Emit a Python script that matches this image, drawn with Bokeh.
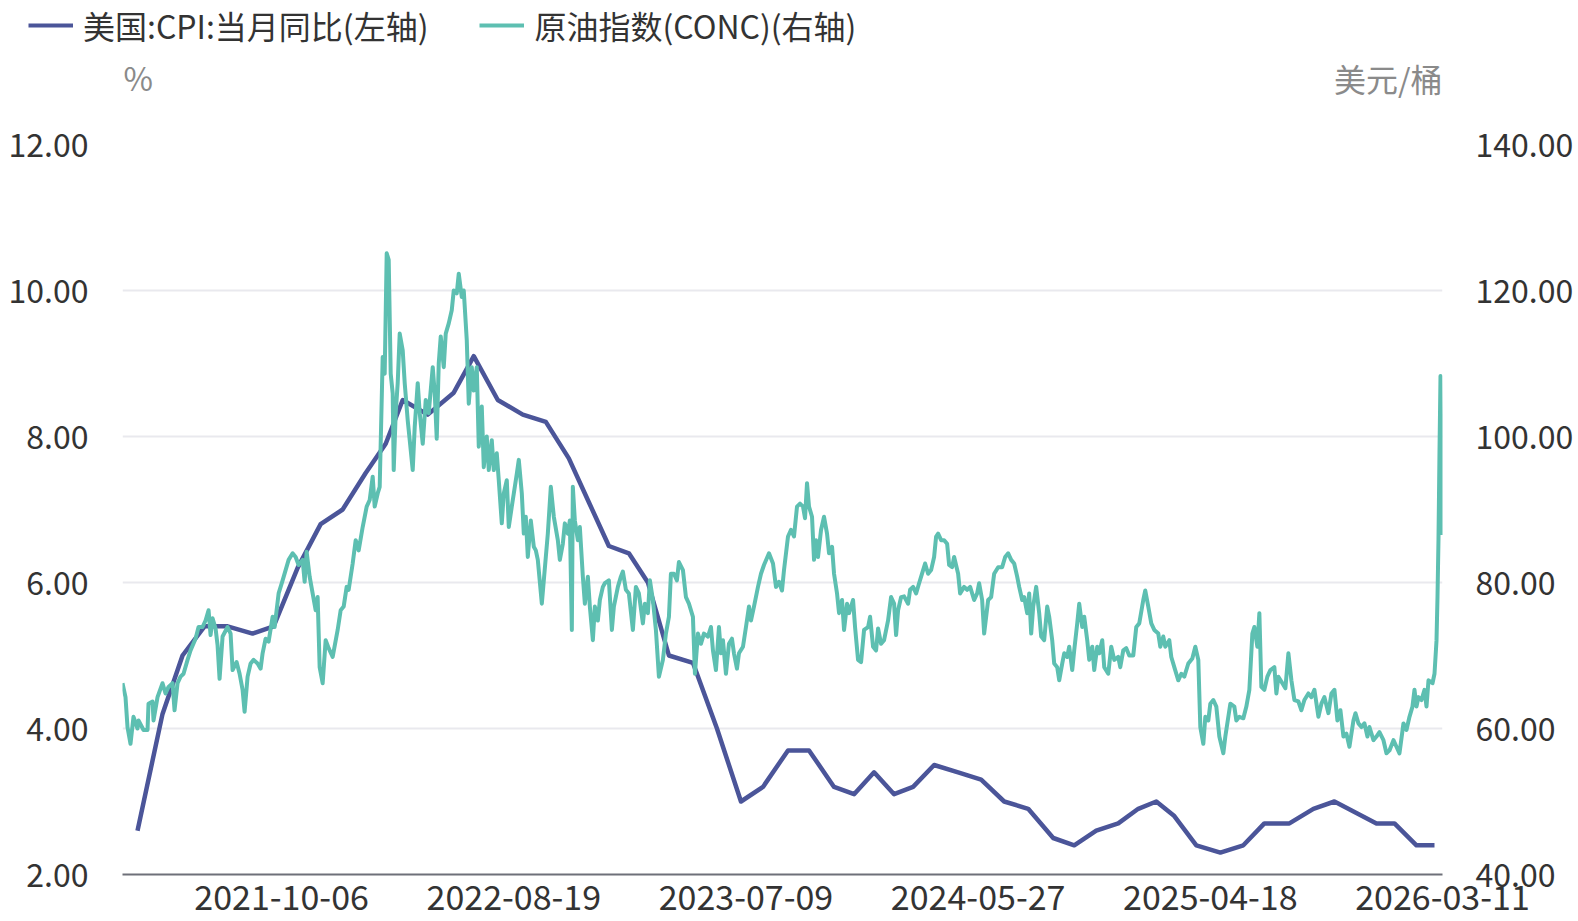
from bokeh.plotting import figure
from bokeh.layouts import column
from bokeh.models import (Range1d, LinearAxis, FixedTicker, NumeralTickFormatter,
                          Legend, LegendItem, Label, Plot)
from bokeh.embed import file_html
from bokeh.resources import INLINE

FONT = "Noto Sans CJK SC"

# ---- category axis (observation index) ----
n_obs = 1320
x_tick_idx = [159, 391, 623, 855, 1087, 1319]
x_tick_labels = ["2021-10-06", "2022-08-19", "2023-07-09", "2024-05-27", "2025-04-18", "2026-03-11"]

# ---- 美国:CPI:当月同比 (%) ----
cpi_month = ["2021-03", "2021-04", "2021-05", "2021-06", "2021-07", "2021-08", "2021-09", "2021-10",
             "2021-11", "2021-12", "2022-01", "2022-02", "2022-03", "2022-04", "2022-05", "2022-06",
             "2022-07", "2022-08", "2022-09", "2022-10", "2022-11", "2022-12", "2023-01", "2023-02",
             "2023-03", "2023-04", "2023-05", "2023-06", "2023-07", "2023-08", "2023-09", "2023-10",
             "2023-11", "2023-12", "2024-01", "2024-02", "2024-03", "2024-04", "2024-05", "2024-06",
             "2024-07", "2024-08", "2024-09", "2024-10", "2024-11", "2024-12", "2025-01", "2025-02",
             "2025-03", "2025-04", "2025-05", "2025-06", "2025-07", "2025-08", "2025-09", "2025-11",
             "2025-12", "2026-01", "2026-02"]
cpi_idx = [15, 40, 60, 82, 105, 130, 151, 175, 198, 220, 243, 263, 280, 305, 331, 351,
           375, 400, 423, 446, 466, 486, 506, 525, 546, 570, 594, 618, 640, 665, 686, 711,
           731, 751, 771, 790, 811, 835, 858, 881, 905, 930, 951, 973, 995, 1015, 1033, 1051,
           1073, 1097, 1120, 1141, 1166, 1190, 1211, 1253, 1271, 1293, 1311]
cpi_val = [2.6, 4.2, 5.0, 5.4, 5.4, 5.3, 5.4, 6.2, 6.8, 7.0, 7.5, 7.9, 8.5, 8.3, 8.6, 9.1,
           8.5, 8.3, 8.2, 7.7, 7.1, 6.5, 6.4, 6.0, 5.0, 4.9, 4.0, 3.0, 3.2, 3.7, 3.7, 3.2,
           3.1, 3.4, 3.1, 3.2, 3.5, 3.4, 3.3, 3.0, 2.9, 2.5, 2.4, 2.6, 2.7, 2.9, 3.0, 2.8,
           2.4, 2.3, 2.4, 2.7, 2.7, 2.9, 3.0, 2.7, 2.7, 2.4, 2.4]

# ---- 原油指数(CONC) (美元/桶) ----
oil_idx = [0, 3, 5, 8, 11, 15, 16, 21, 25, 26, 30, 31, 35, 40, 43, 46, 50, 52, 55, 58,
           61, 65, 68, 73, 76, 80, 83, 86, 88, 90, 93, 95, 97, 100, 105, 108, 110, 114, 117, 120,
           122, 125, 128, 131, 135, 138, 140, 143, 146, 150, 152, 156, 160, 163, 166, 170, 173, 176, 180, 182,
           184, 187, 190, 193, 195, 197, 200, 203, 206, 210, 215, 218, 221, 224, 226, 230, 233, 236, 240, 244,
           247, 250, 252, 255, 257, 260, 262, 264, 266, 268, 270, 271, 273, 275, 277, 280, 282, 285, 287, 290,
           292, 295, 297, 300, 303, 306, 310, 312, 314, 316, 318, 321, 323, 326, 329, 331, 334, 336, 339, 341,
           344, 346, 349, 351, 354, 356, 359, 361, 364, 366, 369, 371, 374, 376, 379, 381, 384, 386, 389, 391,
           394, 396, 399, 401, 403, 405, 408, 411, 413, 415, 419, 421, 425, 428, 431, 435, 437, 440, 442, 445,
           447, 449, 450, 452, 455, 457, 460, 462, 465, 467, 470, 472, 475, 477, 480, 482, 486, 489, 491, 495,
           498, 500, 503, 506, 510, 513, 516, 520, 522, 525, 527, 530, 533, 536, 540, 543, 546, 548, 551, 554,
           556, 560, 563, 566, 570, 572, 575, 578, 581, 585, 588, 590, 593, 596, 598, 600, 603, 606, 609, 611,
           614, 616, 620, 623, 626, 628, 631, 635, 638, 641, 646, 650, 653, 656, 659, 661, 665, 668, 671, 674,
           677, 680, 682, 684, 686, 689, 691, 693, 695, 698, 701, 704, 706, 709, 711, 714, 716, 719, 721, 724,
           726, 730, 732, 735, 738, 741, 745, 747, 750, 753, 755, 758, 761, 765, 768, 771, 773, 775, 778, 781,
           785, 787, 790, 793, 796, 800, 802, 805, 808, 811, 813, 815, 818, 821, 824, 826, 829, 831, 835, 837,
           841, 844, 847, 851, 854, 856, 859, 861, 865, 868, 871, 875, 879, 882, 885, 888, 891, 894, 896, 899,
           901, 904, 906, 908, 910, 913, 916, 918, 921, 924, 926, 929, 931, 934, 936, 939, 941, 944, 946, 949,
           951, 954, 956, 959, 961, 964, 966, 969, 971, 974, 976, 979, 981, 985, 988, 991, 995, 997, 1000, 1003,
           1006, 1010, 1013, 1016, 1020, 1022, 1025, 1028, 1031, 1035, 1037, 1040, 1042, 1046, 1048, 1051, 1055, 1058, 1061, 1065,
           1069, 1072, 1075, 1077, 1080, 1082, 1085, 1087, 1090, 1093, 1096, 1100, 1102, 1105, 1107, 1111, 1113, 1116, 1120, 1123,
           1126, 1129, 1131, 1134, 1136, 1138, 1141, 1144, 1147, 1151, 1153, 1155, 1159, 1162, 1165, 1168, 1171, 1175, 1178, 1181,
           1185, 1188, 1191, 1195, 1198, 1201, 1205, 1208, 1211, 1214, 1217, 1220, 1223, 1226, 1230, 1232, 1235, 1238, 1241, 1244,
           1246, 1250, 1253, 1256, 1260, 1263, 1266, 1270, 1273, 1276, 1280, 1283, 1286, 1289, 1291, 1293, 1295, 1298, 1301, 1303,
           1305, 1309, 1311, 1313, 1314, 1315, 1316, 1317, 1319]
oil_val = [66.2, 64.3, 60.2, 57.9, 61.6, 60.0, 61.1, 59.8, 59.8, 63.4, 63.7, 61.1, 64.3, 66.2, 64.8, 65.7, 66.2, 62.5, 66.2, 67.1,
           67.5, 69.4, 70.7, 72.3, 73.9, 73.9, 74.8, 76.2, 72.8, 75.1, 73.7, 71.4, 66.8, 72.6, 73.9, 73.0, 68.0, 69.1, 67.5, 65.3,
           62.3, 67.1, 68.9, 69.4, 68.9, 68.2, 70.3, 72.3, 71.9, 75.3, 73.9, 78.5, 80.3, 81.7, 83.1, 84.0, 83.5, 82.4, 83.1, 80.1,
           84.2, 80.8, 78.5, 76.2, 78.0, 68.4, 66.2, 72.1, 71.0, 69.8, 73.5, 76.2, 76.7, 79.4, 79.0, 82.6, 85.8, 84.4, 87.6, 90.4,
           91.3, 94.5, 90.4, 92.2, 93.1, 110.9, 108.6, 125.1, 124.2, 108.6, 105.9, 95.4, 103.2, 107.3, 114.1, 111.8, 107.3, 102.2, 99.5, 95.4,
           101.3, 107.3, 103.2, 99.0, 105.0, 103.2, 109.5, 105.9, 99.7, 110.0, 113.7, 109.5, 114.1, 115.5, 117.3, 120.0, 119.6, 122.3, 119.1, 120.0,
           113.2, 104.5, 109.5, 106.3, 109.5, 98.6, 104.1, 95.8, 100.0, 95.4, 99.5, 95.4, 97.7, 94.0, 88.1, 92.2, 94.0, 87.6, 90.4, 92.2,
           94.9, 96.8, 92.2, 86.7, 89.0, 83.5, 88.5, 84.9, 84.4, 83.1, 77.1, 80.3, 86.7, 93.1, 89.0, 85.8, 83.1, 85.3, 88.1, 86.7,
           88.5, 73.5, 93.1, 88.5, 85.8, 87.6, 80.8, 77.1, 80.8, 76.7, 72.1, 76.7, 74.8, 77.6, 79.4, 79.9, 80.3, 73.5, 76.7, 79.4,
           80.8, 81.5, 79.0, 78.5, 73.5, 79.4, 78.5, 74.4, 77.1, 75.8, 80.3, 77.6, 73.5, 67.1, 69.4, 73.0, 75.3, 81.2, 81.2, 80.3,
           82.8, 81.7, 78.0, 77.1, 75.3, 67.5, 73.0, 71.6, 73.0, 72.6, 73.9, 70.7, 68.0, 73.9, 70.3, 72.1, 67.5, 71.6, 72.3, 70.3,
           68.2, 70.3, 71.2, 73.9, 76.7, 74.8, 76.7, 79.4, 81.2, 82.4, 84.0, 82.6, 79.4, 80.1, 78.9, 81.7, 86.3, 87.2, 86.3, 90.4,
           90.8, 90.4, 88.8, 93.6, 90.4, 89.0, 83.1, 85.8, 83.5, 87.2, 89.0, 86.7, 84.0, 84.9, 81.2, 78.5, 75.8, 77.6, 73.5, 77.1,
           75.8, 77.6, 73.9, 69.4, 69.1, 73.5, 73.9, 75.3, 71.2, 70.7, 73.7, 71.6, 72.1, 74.8, 78.0, 77.1, 72.8, 76.2, 78.0, 78.1,
           77.1, 79.0, 79.4, 78.5, 79.9, 81.7, 82.6, 81.2, 81.7, 83.5, 86.3, 86.7, 85.8, 85.8, 85.3, 82.4, 82.1, 83.5, 81.2, 78.5,
           79.4, 79.0, 79.4, 77.6, 78.5, 79.9, 77.6, 73.0, 77.6, 78.0, 81.2, 82.1, 82.1, 83.5, 84.0, 83.1, 82.6, 80.8, 79.4, 77.6,
           78.0, 75.8, 78.5, 73.0, 76.7, 79.4, 75.8, 72.6, 72.1, 76.7, 75.3, 72.1, 68.9, 68.4, 66.6, 68.9, 70.3, 69.8, 71.2, 68.0,
           70.7, 74.4, 77.1, 73.9, 75.3, 72.1, 69.4, 71.2, 68.0, 71.2, 70.3, 72.1, 68.4, 67.5, 71.2, 69.4, 69.8, 68.4, 70.7, 71.0,
           70.0, 70.0, 73.9, 74.4, 77.6, 78.9, 76.7, 74.4, 73.5, 73.0, 71.2, 72.6, 71.2, 72.1, 69.8, 68.4, 66.6, 67.5, 67.1, 68.9,
           69.6, 71.2, 69.4, 60.2, 57.9, 61.6, 61.1, 63.4, 63.9, 63.0, 58.9, 56.6, 58.9, 61.6, 63.4, 63.0, 61.1, 61.6, 61.4, 63.0,
           65.3, 73.0, 73.9, 71.2, 75.8, 65.7, 65.3, 67.1, 68.0, 68.4, 64.8, 67.1, 66.2, 65.5, 70.3, 66.6, 63.9, 63.7, 62.5, 63.9,
           64.8, 64.3, 65.3, 61.6, 63.4, 64.3, 62.1, 64.8, 65.3, 61.1, 62.5, 58.9, 59.3, 57.5, 61.1, 62.1, 60.7, 60.2, 60.7, 58.9,
           60.2, 58.4, 58.9, 59.5, 58.4, 56.6, 57.0, 58.4, 57.5, 56.6, 60.7, 59.8, 61.6, 63.0, 65.3, 63.0, 64.3, 63.9, 65.3, 63.0,
           66.6, 66.2, 67.5, 72.0, 78.0, 86.0, 98.0, 108.3, 86.5]

left_ticks = [2, 4, 6, 8, 10, 12]
right_ticks = [40, 60, 80, 100, 120, 140]

legend_labels = ["美国:CPI:当月同比(左轴)", "原油指数(CONC)(右轴)"]
left_unit = "%"
right_unit = "美元/桶"

CPI_COLOR = "#4B5599"
OIL_COLOR = "#5DBFB1"
TEXT_COLOR = "#333333"
UNIT_COLOR = "#8A8A8A"
W = 1578
HEAD_H = 120
FRAME_L, FRAME_R = 122, 1442

# can the header frame be freed from alignment with the chart frame?
CAN_UNALIGN = "frame_align" in Plot.properties()

# ---------------- header: legend + unit labels (x, y in page pixels) ----------------
if CAN_UNALIGN:
    hx0, hx1 = 0, W
else:
    hx0, hx1 = FRAME_L, FRAME_R
head = figure(width=W, height=HEAD_H, output_backend="svg", toolbar_location=None,
              x_range=Range1d(hx0, hx1), y_range=Range1d(HEAD_H, 0),
              x_axis_type=None, y_axis_type=None, min_border=0)
if CAN_UNALIGN:
    head.frame_align = False
head.outline_line_color = None
head.xgrid.visible = False
head.ygrid.visible = False
d_cpi = head.line(x=[-9000, -8000], y=[-9000, -9000], line_color=CPI_COLOR, line_width=4)
d_oil = head.line(x=[-9000, -8000], y=[-9000, -9000], line_color=OIL_COLOR, line_width=4)
legend = Legend(items=[LegendItem(label=legend_labels[0], renderers=[d_cpi]),
                       LegendItem(label=legend_labels[1], renderers=[d_oil])],
                orientation="horizontal", location=(28 - hx0, 72))
legend.label_text_font = FONT
legend.label_text_font_size = "32px"
legend.label_text_color = TEXT_COLOR
legend.glyph_width = 45
legend.glyph_height = 20
legend.label_standoff = 10
legend.spacing = 51
legend.padding = 0
legend.margin = 0
legend.border_line_color = None
legend.background_fill_alpha = 0
head.add_layout(legend, "center")
head.add_layout(Label(x=123, y=76, text=left_unit, text_align="left", text_baseline="middle",
                      text_font=FONT, text_font_size="32px", text_color=UNIT_COLOR))
head.add_layout(Label(x=1442, y=77, text=right_unit, text_align="right", text_baseline="middle",
                      text_font=FONT, text_font_size="32px", text_color=UNIT_COLOR))

# ---------------- main chart ----------------
p = figure(width=W, height=921 - HEAD_H, output_backend="svg", toolbar_location=None,
           x_range=Range1d(0, n_obs - 1), y_range=Range1d(2, 12),
           min_border_left=FRAME_L, min_border_right=W - FRAME_R, min_border_top=24,
           min_border_bottom=47)
if CAN_UNALIGN:
    p.frame_align = False
p.outline_line_color = None
p.extra_y_ranges = {"oil": Range1d(40, 140)}

p.xaxis.ticker = FixedTicker(ticks=x_tick_idx)
p.xaxis.major_label_overrides = {i: s for i, s in zip(x_tick_idx, x_tick_labels)}
p.xaxis.axis_line_color = "#6E7079"
p.xaxis.axis_line_width = 2
p.xaxis.major_tick_line_color = None
p.xaxis.minor_tick_line_color = None
p.xaxis.major_label_standoff = 4
p.xaxis.major_label_text_font = FONT
p.xaxis.major_label_text_font_size = "34px"
p.xaxis.major_label_text_color = TEXT_COLOR

p.yaxis.ticker = FixedTicker(ticks=left_ticks)
p.yaxis.formatter = NumeralTickFormatter(format="0.00")
p.yaxis.axis_line_color = None
p.yaxis.major_tick_line_color = None
p.yaxis.minor_tick_line_color = None
p.yaxis.major_label_standoff = 28
p.yaxis.major_label_text_font = FONT
p.yaxis.major_label_text_font_size = "32px"
p.yaxis.major_label_text_color = TEXT_COLOR

raxis = LinearAxis(y_range_name="oil", ticker=FixedTicker(ticks=right_ticks),
                   formatter=NumeralTickFormatter(format="0.00"))
raxis.axis_line_color = None
raxis.major_tick_line_color = None
raxis.minor_tick_line_color = None
raxis.major_label_standoff = 27
raxis.major_label_text_font = FONT
raxis.major_label_text_font_size = "32px"
raxis.major_label_text_color = TEXT_COLOR
p.add_layout(raxis, "right")

p.xgrid.grid_line_color = None
p.ygrid.ticker = FixedTicker(ticks=left_ticks)
p.ygrid.grid_line_color = "#E9E9EE"
p.ygrid.grid_line_width = 2

p.line(cpi_idx, cpi_val, line_color=CPI_COLOR, line_width=4.5, line_join="round")
p.line(oil_idx, oil_val, y_range_name="oil", line_color=OIL_COLOR, line_width=4,
       line_join="round")

layout = column(head, p, spacing=0)
open("out.html", "w").write(file_html(layout, INLINE))
